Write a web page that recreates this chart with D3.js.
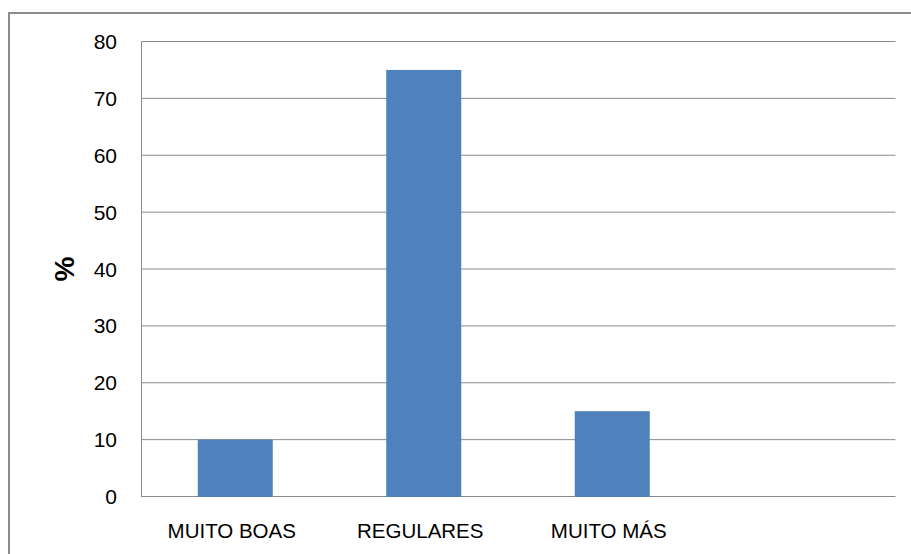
<!DOCTYPE html>
<html><head><meta charset="utf-8">
<script src="https://cdn.jsdelivr.net/npm/d3@7"></script>
<style>body{margin:0;background:#fff;}svg{display:block;}</style>
</head><body>
<script>
const categories = ["MUITO BOAS", "REGULARES", "MUITO MÁS", ""];
const values = [10, 75, 15, null];
const yTicks = [0, 10, 20, 30, 40, 50, 60, 70, 80];
const yLabel = "%";

const W = 911, H = 554;
const plot = {left: 141.5, right: 895.5, top: 41.5, bottom: 496.5};
const svg = d3.select("body").append("svg").attr("width", W).attr("height", H);

// outer border
svg.append("rect").attr("x", 9).attr("y", 13).attr("width", W + 10).attr("height", H + 10)
  .attr("fill", "#fff").attr("stroke", "#8c8c8c").attr("stroke-width", 2);

const x = d3.scaleBand().domain(d3.range(categories.length))
  .range([plot.left, plot.right]).paddingInner(0.602).paddingOuter(0.301);
const y = d3.scaleLinear().domain([0, 80]).range([plot.bottom, plot.top]);

// gridlines
svg.append("g").selectAll("line").data(yTicks).join("line")
  .attr("x1", plot.left).attr("x2", plot.right)
  .attr("y1", d => y(d)).attr("y2", d => y(d))
  .attr("stroke", "#8a8a8a").attr("stroke-width", 1);

// bars
const data = values.map((v, i) => ({v, i})).filter(d => d.v != null);
svg.append("g").selectAll("rect").data(data).join("rect")
  .attr("x", d => x(d.i) - 0.5)
  .attr("y", d => y(d.v))
  .attr("width", x.bandwidth())
  .attr("height", d => y(0) + 0.5 - y(d.v))
  .attr("fill", "#4f81bd");

// y axis line
svg.append("line").attr("x1", plot.left).attr("x2", plot.left).attr("y1", y(80)).attr("y2", y(0) + 0.5)
  .attr("stroke", "#8a8a8a").attr("stroke-width", 1);

// y tick labels
svg.append("g").selectAll("text").data(yTicks).join("text")
  .attr("x", 117).attr("y", d => y(d)).attr("dy", "0.36em")
  .attr("text-anchor", "end")
  .attr("font-family", "Liberation Sans, Arial, sans-serif").attr("font-size", 21)
  .attr("fill", "#000").text(d => d);

// x labels
svg.append("g").selectAll("text").data(categories).join("text")
  .attr("x", (d, i) => x(i) + x.bandwidth() / 2 - 4)
  .attr("y", 538)
  .attr("text-anchor", "middle")
  .attr("font-family", "Liberation Sans, Arial, sans-serif").attr("font-size", 20.5)
  .attr("fill", "#000").text(d => d);

// y label
svg.append("text").attr("transform", `translate(74,${(y(0) + y(80)) / 2}) rotate(-90)`)
  .attr("text-anchor", "middle")
  .attr("font-family", "Liberation Sans, Arial, sans-serif").attr("font-size", 28).attr("font-weight", "bold")
  .text(yLabel);
</script>
</body></html>
